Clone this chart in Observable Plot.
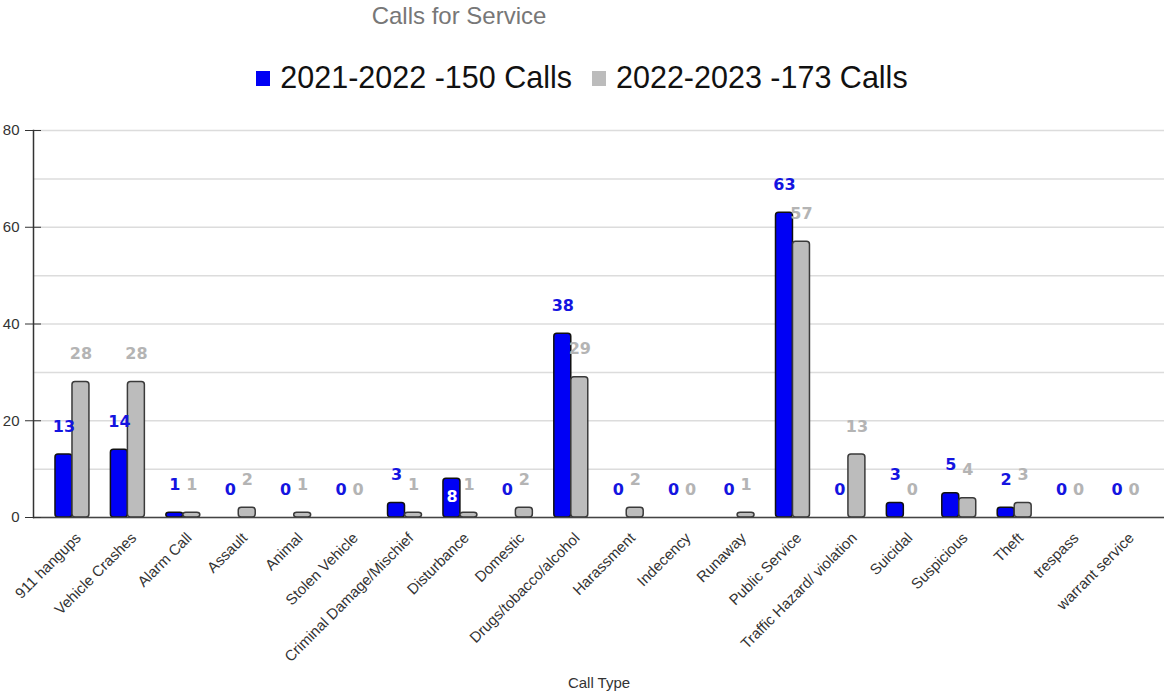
<!DOCTYPE html>
<html>
<head>
<meta charset="utf-8">
<script src="https://cdn.jsdelivr.net/npm/d3@7"></script>
<script src="https://cdn.jsdelivr.net/npm/@observablehq/plot@0.6"></script>
<style>
  html, body { margin: 0; padding: 0; background: #fff; }
  body { width: 1164px; height: 696px; overflow: hidden; font-family: "Liberation Sans", Arial, sans-serif; }
  #title { height: 34px; line-height: 32px; width: 918px; text-align: center; font-size: 24px; color: #777; }
  #legend { height: 46px; line-height: 46px; padding-top: 20px; text-align: center; font-size: 30.5px; color: #111; white-space: nowrap; }
  #legend .item { display: inline-block; margin: 0 10px; }
  #legend .sw { display: inline-block; width: 14px; height: 15px; margin-right: 10px; vertical-align: 2px; }
</style>
</head>
<body>
<div id="title">Calls for Service</div>
<div id="legend"></div>
<div id="chart"></div>
<script>
// ---- data ----
const categories = [
  "911 hangups", "Vehicle Crashes", "Alarm Call", "Assault", "Animal",
  "Stolen Vehicle", "Criminal Damage/Mischief", "Disturbance", "Domestic",
  "Drugs/tobacco/alcohol", "Harassment", "Indecency", "Runaway",
  "Public Service", "Traffic Hazard/ violation", "Suicidal", "Suspicious",
  "Theft", "trespass", "warrant service"
];
const seriesNames = ["2021-2022 -150 Calls", "2022-2023 -173 Calls"];
const calls2021_2022 = [13, 14, 1, 0, 0, 0, 3, 8, 0, 38, 0, 0, 0, 63, 0, 3, 5, 2, 0, 0];
const calls2022_2023 = [28, 28, 1, 2, 1, 0, 1, 1, 2, 29, 2, 0, 1, 57, 13, 0, 4, 3, 0, 0];
const yTicks = [0, 20, 40, 60, 80];
const gridTicks = [0, 10, 20, 30, 40, 50, 60, 70, 80];
const seriesColors = ["#0000f5", "#bcbcbc"];
const labelColors = ["#1414e0", "#b4b4b4"];

// ---- build table ----
const rows = [];
categories.forEach((c, i) => {
  rows.push({category: c, series: seriesNames[0], value: calls2021_2022[i], s: 0});
  rows.push({category: c, series: seriesNames[1], value: calls2022_2023[i], s: 1});
});
const insideLabel = d => d.s === 0 && d.category === "Disturbance";

// ---- legend ----
const legend = document.getElementById("legend");
seriesNames.forEach((name, i) => {
  const item = document.createElement("span");
  item.className = "item";
  item.innerHTML = `<span class="sw" style="background:${seriesColors[i]}"></span>${name}`;
  legend.appendChild(item);
});

// ---- chart ----
const W = 1164, H = 596, mL = 33, mR = 0;
const barHalf = 8.5;
const labelFont = {fontSize: 16, fontWeight: "bold", fontFamily: "'DejaVu Sans', sans-serif"};
const chart = Plot.plot({
  width: W,
  height: H,
  marginTop: 30,
  marginBottom: 179,
  marginLeft: mL,
  marginRight: mR,
  style: {fontFamily: "'Liberation Sans', Arial, sans-serif", fontSize: "14px", color: "#333", background: "#fff"},
  x: {domain: categories, paddingInner: 0.694, paddingOuter: 0.55, round: false},
  y: {domain: [0, 80]},
  color: {domain: seriesNames, range: seriesColors},
  marks: [
    Plot.gridY(gridTicks, {stroke: "#dcdcdc", strokeOpacity: 1, strokeWidth: 1.5}),
    Plot.barY(rows.filter(d => d.s === 0), {x: "category", y: "value", fill: "series", stroke: "#111", strokeWidth: 1.5, rx: 3, dx: -barHalf}),
    Plot.barY(rows.filter(d => d.s === 1), {x: "category", y: "value", fill: "series", stroke: "#3a3a3a", strokeWidth: 1.5, rx: 3, dx: barHalf}),
    Plot.ruleY([0], {stroke: "#444", strokeWidth: 1.5}),
    Plot.frame({anchor: "left", stroke: "#333", strokeWidth: 1.5}),
    Plot.axisY(yTicks, {tickSize: 8, tickPadding: 6, label: null, fontSize: 15}),
    Plot.tickY(yTicks, {y: d => d, stroke: "#333", strokeWidth: 1, insetRight: W - mL - mR - 8}),
    Plot.axisX({tickRotate: -45, tickSize: 0, tickPadding: 18, dx: 6, label: null, fontSize: 15}),
    Plot.text(rows.filter(d => d.s === 0 && !insideLabel(d)), {x: "category", y: "value", text: d => String(d.value), dx: -barHalf, dy: -28, fill: labelColors[0], ...labelFont}),
    Plot.text(rows.filter(insideLabel), {x: "category", y: "value", text: d => String(d.value), dx: -barHalf, dy: 18, fill: "#fff", ...labelFont}),
    Plot.text(rows.filter(d => d.s === 1), {x: "category", y: "value", text: d => String(d.value), dx: barHalf, dy: -28, fill: labelColors[1], ...labelFont}),
    Plot.text(["Call Type"], {frameAnchor: "bottom", dy: 170, fontSize: 15, fill: "#333"})
  ]
});
document.getElementById("chart").appendChild(chart);
</script>
</body>
</html>
